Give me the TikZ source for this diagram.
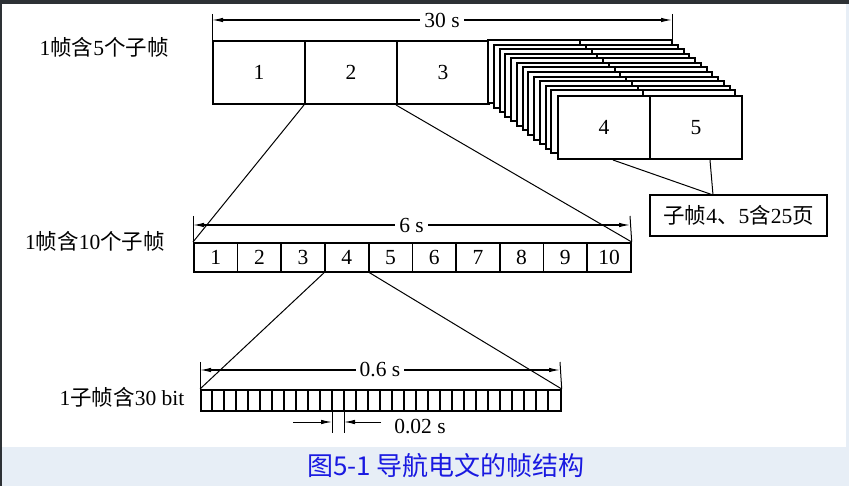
\documentclass[tikz,border=0pt]{standalone}
\usepackage{fontspec}
\setmainfont{Liberation Serif}
\newfontfamily\cjk{Noto Sans CJK SC}
\usetikzlibrary{arrows.meta,calc}
\tikzset{>={Latex[length=11pt,width=4.5pt]}}
\definecolor{capband}{RGB}{231,238,246}
\definecolor{captext}{RGB}{25,25,225}
\definecolor{topbar}{RGB}{45,49,53}

\begin{document}
\begin{tikzpicture}[x=1pt,y=-1pt,
  font=\fontsize{21.5}{25}\selectfont,
  frame/.style={draw,fill=white,line width=2pt,inner sep=0pt,anchor=north west,minimum width=92pt,minimum height=63pt},
  cell/.style={draw,line width=1.7pt,inner sep=0pt,anchor=north west,minimum width=43.7pt,minimum height=29pt},
  guide/.style={line width=1pt},
  dimline/.style={line width=1.1pt,<->}]
\useasboundingbox (0,0) rectangle (849,486);
\fill[white] (0,0) rectangle (849,486);
\fill[capband] (0,447) rectangle (849,486);
\fill[capband] (846,0) rectangle (849,486);
\fill[topbar] (0,0) rectangle (849,4);
\fill[topbar] (0,0) rectangle (2,486);

% frame of 5 subframes
\node[frame] (f1) at (212,40) {1};
\node[frame] (f2) at (304,40) {2};
\node[frame] (f3) at (396,40) {3};
\foreach \i in {0,...,11}{
  \draw[line width=2pt,fill=white] (488+\i*5.75,40+\i*4.583) rectangle ++(184,63);
  \draw[line width=2pt] (580+\i*5.75,40+\i*4.583) -- ++(0,63);
}
\node[frame] (f4) at (557,95) {4};
\node[frame] (f5) at (649,95) {5};
\node (lab5) at (104,47) {1{\cjk 帧含}5{\cjk 个子帧}};

\coordinate (back) at (672,40);
\draw[guide] (212,14) -- (f1.north west);
\draw[guide] (672,14) -- (back);
\draw[dimline] (212,20) -- node[fill=white,inner sep=4pt] (t30) {30 s} (672,20);

% callout
\node[draw,line width=1.3pt,minimum width=177pt,minimum height=41pt] (note) at (738.5,215.5) {{\cjk 子帧}4{\cjk 、}5{\cjk 含}25{\cjk 页}};
\coordinate (tip) at (713,195);
\draw[guide] ($(f4.south)+(9,0)$) -- (tip);
\draw[guide] ($(f5.south)+(14,0)$) -- (tip);

% frame of 10 subframes
\foreach \i in {1,...,10}
  \node[cell] (c\i) at (193+43.7*\i-43.7,242) {\i};
\node (lab10) at (95,241) {1{\cjk 帧含}10{\cjk 个子帧}};
\draw[guide] (193,216) -- (c1.north west);
\draw[guide] (630,216) -- (c10.north east);
\draw[dimline] (193,225) -- node[fill=white,inner sep=4pt] (t6) {6 s} (630,225);

\draw[guide] (f2.south west) -- (c1.north west);
\draw[guide] (f3.south west) -- (c10.north east);

% subframe of 30 bit
\node[draw,line width=1.7pt,inner sep=0pt,anchor=north west,minimum width=360pt,minimum height=21pt] (bits) at (200,389) {};
\foreach \k in {1,...,29}
  \draw[line width=1.5pt] (200+12*\k,389) -- ++(0,21);
\node (lab30) at (122,397) {1{\cjk 子帧含}30 bit};
\draw[guide] (200,362) -- (bits.north west);
\draw[guide] (560,362) -- (bits.north east);
\draw[dimline] (200,370) -- node[fill=white,inner sep=4pt] (t06) {0.6 s} (560,370);

\draw[guide] (c4.south west) -- (bits.north west);
\draw[guide] (c4.south east) -- (bits.north east);

% one bit
\coordinate (bl) at (332,433);
\coordinate (br) at (344,433);
\draw[guide] (332,410) -- (bl);
\draw[guide] (344,410) -- (br);
\draw[guide,->] (293,422) -- (332,422);
\draw[guide,->] (381,422) -- (344,422);
\node (t002) at (420,427) {0.02 s};

% caption
\node[text=captext,font=\cjk\fontsize{26}{30}\selectfont] (cap) at (446,466) {图5-1 导航电文的帧结构};
\end{tikzpicture}
\end{document}
